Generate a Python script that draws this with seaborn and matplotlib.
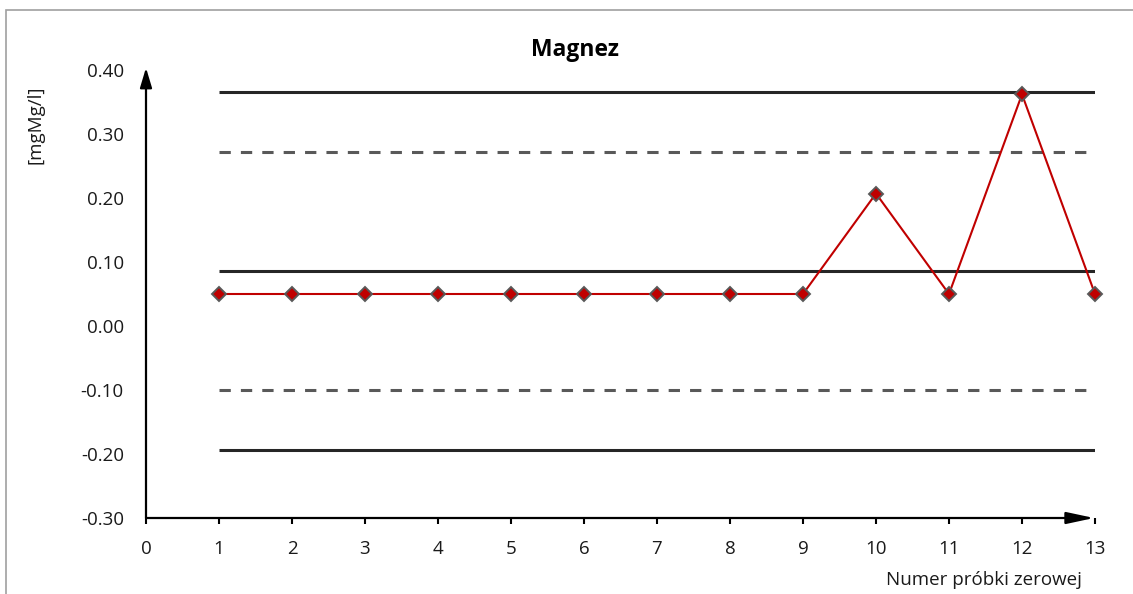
import numpy as np
import pandas as pd
import matplotlib
matplotlib.use("Agg")
import matplotlib.pyplot as plt
import seaborn as sns
from matplotlib.patches import Rectangle

# ---- data ----
sample_no = [1, 2, 3, 4, 5, 6, 7, 8, 9, 10, 11, 12, 13]
magnez = [0.05, 0.05, 0.05, 0.05, 0.05, 0.05, 0.05, 0.05, 0.05, 0.207, 0.05, 0.362, 0.05]
solid_limits = [0.365, 0.086, -0.193]     # UCL, CL, LCL
dashed_limits = [0.272, -0.100]           # UWL, LWL
y_ticks = [-0.30, -0.20, -0.10, 0.00, 0.10, 0.20, 0.30, 0.40]
x_ticks = [0, 1, 2, 3, 4, 5, 6, 7, 8, 9, 10, 11, 12, 13]
title = "Magnez"
ylabel = "[mgMg/l]"
xlabel = "Numer próbki zerowej"

sns.set_theme(style="white")
plt.rcParams['font.family'] = ['Open Sans', 'DejaVu Sans']
plt.rcParams['axes.unicode_minus'] = False

W, H = 1133, 594
fig = plt.figure(figsize=(W / 100, H / 100), dpi=100)
ax = fig.add_axes([146 / W, 1 - 518 / H, (1095 - 146) / W, (518 - 70) / H])
ax.set_facecolor("white")

df = pd.DataFrame({"x": sample_no, "y": magnez})

# control lines
ax.hlines(solid_limits, sample_no[0], sample_no[-1], colors="#262626", lw=2.2, zorder=2)
ax.hlines(dashed_limits, sample_no[0], sample_no[-1], colors="#595959", lw=2.2,
          linestyles=(0, (3.7, 3.3)), zorder=2)

sns.lineplot(data=df, x="x", y="y", ax=ax, color="#C00000", lw=1.5, marker="D",
             markersize=7.5, markerfacecolor="#C00000", markeredgecolor="#595959",
             markeredgewidth=1.4, clip_on=False, zorder=4)

ax.set_xlim(0, 13)
ax.set_ylim(-0.30, 0.40)
ax.set_xticks(x_ticks)
ax.set_xticklabels([str(v) for v in x_ticks])
ax.set_yticks(y_ticks)
ax.set_yticklabels([f"{v:.2f}" for v in y_ticks])
ax.tick_params(axis="y", length=0, pad=16, labelsize=13.5, labelcolor="#1a1a1a")
ax.tick_params(axis="x", length=4.5, width=1.5, color="black", direction="out",
               pad=11, labelsize=13.5, labelcolor="#1a1a1a", bottom=True)
ax.set_xlabel("")
ax.set_ylabel("")
for s in ax.spines.values():
    s.set_visible(False)

# arrow axes
ax.annotate("", xy=(0, 1.005), xytext=(0, 0), xycoords="axes fraction",
            arrowprops=dict(arrowstyle="-|>,head_length=1.0,head_width=0.3",
                            color="black", lw=1.6, shrinkA=0, shrinkB=0),
            annotation_clip=False, zorder=5)
ax.annotate("", xy=(0.999, 0), xytext=(0, 0), xycoords="axes fraction",
            arrowprops=dict(arrowstyle="-|>,head_length=1.4,head_width=0.3",
                            color="black", lw=1.6, shrinkA=0, shrinkB=0),
            annotation_clip=False, zorder=5)

fig.text(575 / W, 1 - 50 / H, title, ha="center", va="center", fontsize=16.5,
         fontweight="bold", color="black")
fig.text(35 / W, 1 - 125 / H, ylabel, ha="center", va="center", rotation=90,
         fontsize=13.5, color="#1a1a1a")
fig.text(1082 / W, 1 - 580 / H, xlabel, ha="right", va="center",
         fontsize=13.5, color="#1a1a1a")

fig.patches.append(Rectangle((6 / W, -0.1), 1.2, 1.1 - 10 / H, transform=fig.transFigure,
                             fill=False, edgecolor="#a0a0a0", lw=1.2))

fig.savefig("out.png", dpi=100)
